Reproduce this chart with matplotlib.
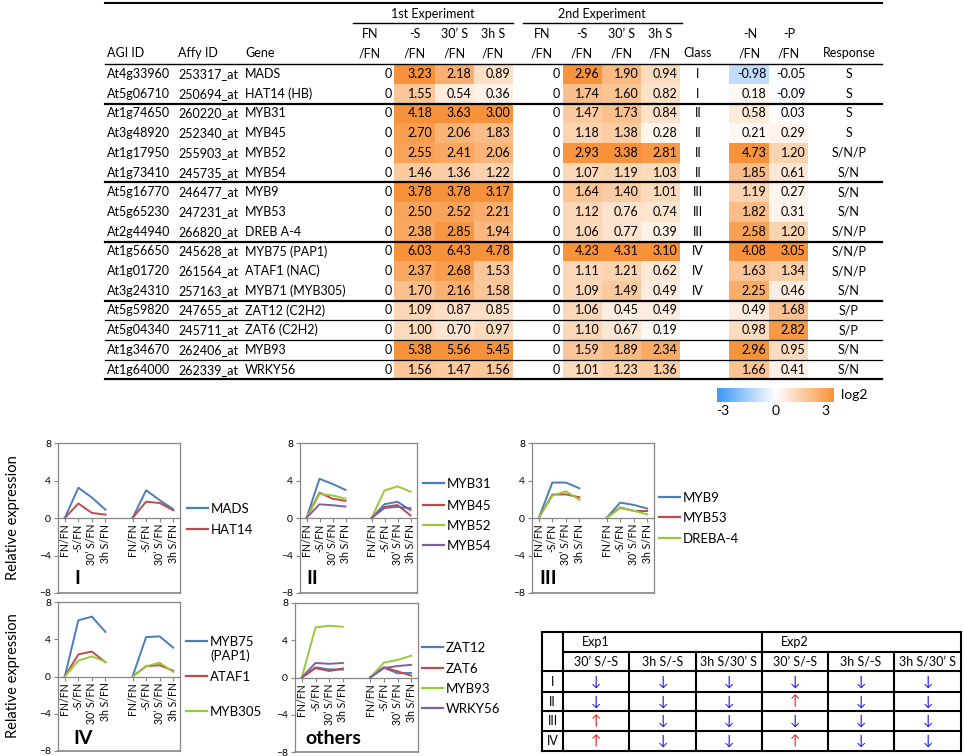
import numpy as np
import matplotlib
matplotlib.use("Agg")
import matplotlib.pyplot as plt
from matplotlib.colors import LinearSegmentedColormap, Normalize

plt.rcParams['font.family'] = ['Lato', 'DejaVu Sans']

# table data
agi = ['At4g33960', 'At5g06710', 'At1g74650', 'At3g48920', 'At1g17950', 'At1g73410',
       'At5g16770', 'At5g65230', 'At2g44940', 'At1g56650', 'At1g01720', 'At3g24310',
       'At5g59820', 'At5g04340', 'At1g34670', 'At1g64000']
affy = ['253317_at', '250694_at', '260220_at', '252340_at', '255903_at', '245735_at',
        '246477_at', '247231_at', '266820_at', '245628_at', '261564_at', '257163_at',
        '247655_at', '245711_at', '262406_at', '262339_at']
genes = ['MADS', 'HAT14 (HB)', 'MYB31', 'MYB45', 'MYB52', 'MYB54', 'MYB9', 'MYB53',
         'DREB A-4', 'MYB75 (PAP1)', 'ATAF1 (NAC)', 'MYB71 (MYB305)', 'ZAT12 (C2H2)',
         'ZAT6 (C2H2)', 'MYB93', 'WRKY56']
exp1 = [[3.23, 2.18, 0.89], [1.55, 0.54, 0.36], [4.18, 3.63, 3.00], [2.70, 2.06, 1.83],
        [2.55, 2.41, 2.06], [1.46, 1.36, 1.22], [3.78, 3.78, 3.17], [2.50, 2.52, 2.21],
        [2.38, 2.85, 1.94], [6.03, 6.43, 4.78], [2.37, 2.68, 1.53], [1.70, 2.16, 1.58],
        [1.09, 0.87, 0.85], [1.00, 0.70, 0.97], [5.38, 5.56, 5.45], [1.56, 1.47, 1.56]]
exp2 = [[2.96, 1.90, 0.94], [1.74, 1.60, 0.82], [1.47, 1.73, 0.84], [1.18, 1.38, 0.28],
        [2.93, 3.38, 2.81], [1.07, 1.19, 1.03], [1.64, 1.40, 1.01], [1.12, 0.76, 0.74],
        [1.06, 0.77, 0.39], [4.23, 4.31, 3.10], [1.11, 1.21, 0.62], [1.09, 1.49, 0.49],
        [1.06, 0.45, 0.49], [1.10, 0.67, 0.19], [1.59, 1.89, 2.34], [1.01, 1.23, 1.36]]
classes = ['I', 'I', 'II', 'II', 'II', 'II', 'III', 'III', 'III', 'IV', 'IV', 'IV', '', '', '', '']
n_fn = [-0.98, 0.18, 0.58, 0.21, 4.73, 1.85, 1.19, 1.82, 2.58, 4.08, 1.63, 2.25, 0.49, 0.98, 2.96, 1.66]
p_fn = [-0.05, -0.09, 0.03, 0.29, 1.20, 0.61, 0.27, 0.31, 1.20, 3.05, 1.34, 0.46, 1.68, 2.82, 0.95, 0.41]
response = ['S', 'S', 'S', 'S', 'S/N/P', 'S/N', 'S/N', 'S/N', 'S/N/P', 'S/N/P', 'S/N/P', 'S/N',
            'S/P', 'S/P', 'S/N', 'S/N']

# line chart panels (rows of the table)
panel_rows = [[0, 1], [2, 3, 4, 5], [6, 7, 8], [9, 10, 11], [12, 13, 14, 15]]
panel_names = [['MADS', 'HAT14'], ['MYB31', 'MYB45', 'MYB52', 'MYB54'],
               ['MYB9', 'MYB53', 'DREBA-4'], ['MYB75\n(PAP1)', 'ATAF1', 'MYB305'],
               ['ZAT12', 'ZAT6', 'MYB93', 'WRKY56']]
panel_labels = ['I', 'II', 'III', 'IV', 'others']
xlabels = ['FN/FN', '-S/FN', '30\u2019 S/FN', '3h S/FN']

# summary arrow table
sum_cols = ['30\u2019 S/-S', '3h S/-S', '3h S/30\u2019 S', '30\u2019 S/-S', '3h S/-S', '3h S/30\u2019 S']
sum_rows = ['I', 'II', 'III', 'IV']
sum_dirs = [['d', 'd', 'd', 'd', 'd', 'd'],
            ['d', 'd', 'd', 'u', 'd', 'd'],
            ['u', 'd', 'd', 'd', 'd', 'd'],
            ['u', 'd', 'd', 'u', 'd', 'd']]

W, H = 964, 756
fig = plt.figure(figsize=(W / 100, H / 100), dpi=100)
ax = fig.add_axes([0, 0, 1, 1])
ax.axis('off')

cmap = LinearSegmentedColormap.from_list('bwo', ['#3D98F5', '#FFFFFF', '#F7923A'])
norm = Normalize(-3, 3)
fs = 9

# ---- heat table ----
top = 64.2
rh = 19.7
cols1 = [394, 435, 474, 513]
cols2 = [563, 602, 641, 680]
colsnp = [729, 769, 808]


def cell(x0, x1, yc, v):
    ax.add_patch(plt.Rectangle((x0, yc - rh / 2), x1 - x0, rh, color=cmap(norm(v)), lw=0))
    ax.text(x1 - 2.5, yc, '%.2f' % v, ha='right', va='center', fontsize=fs)


for i in range(len(agi)):
    yc = top + rh * (i + 0.5)
    ax.text(107, yc, agi[i], ha='left', va='center', fontsize=fs)
    ax.text(178, yc, affy[i], ha='left', va='center', fontsize=fs)
    ax.text(245, yc, genes[i], ha='left', va='center', fontsize=fs)
    ax.text(392, yc, '0', ha='right', va='center', fontsize=fs)
    ax.text(560, yc, '0', ha='right', va='center', fontsize=fs)
    for k in range(3):
        cell(cols1[k], cols1[k + 1], yc, exp1[i][k])
        cell(cols2[k], cols2[k + 1], yc, exp2[i][k])
    cell(colsnp[0], colsnp[1], yc, n_fn[i])
    cell(colsnp[1], colsnp[2], yc, p_fn[i])
    ax.text(698, yc, classes[i], ha='center', va='center', fontsize=fs)
    ax.text(849, yc, response[i], ha='center', va='center', fontsize=fs)

# header
ax.text(433, 14, '1st Experiment', ha='center', va='center', fontsize=fs)
ax.text(602, 14, '2nd Experiment', ha='center', va='center', fontsize=fs)
ax.plot([353, 513], [23, 23], color='k', lw=1)
ax.plot([523, 682], [23, 23], color='k', lw=1)
head1 = ['FN', '-S', '30\u2019 S', '3h S', 'FN', '-S', '30\u2019 S', '3h S', '-N', '-P']
head_x = [370, 415, 455, 493, 542, 582, 622, 660, 750, 789]
for t, x in zip(head1, head_x):
    ax.text(x, 34, t, ha='center', va='center', fontsize=fs)
    ax.text(x, 53, '/FN', ha='center', va='center', fontsize=fs)
ax.text(107, 53, 'AGI ID', ha='left', va='center', fontsize=fs)
ax.text(178, 53, 'Affy ID', ha='left', va='center', fontsize=fs)
ax.text(245, 53, 'Gene', ha='left', va='center', fontsize=fs)
ax.text(698, 53, 'Class', ha='center', va='center', fontsize=fs)
ax.text(849, 53, 'Response', ha='center', va='center', fontsize=fs)

ax.plot([105, 882], [3, 3], color='k', lw=1.5)
ax.plot([105, 882], [top, top], color='k', lw=1)
for b in [2, 6, 9, 12, 16]:
    ax.plot([105, 882], [top + rh * b] * 2, color='k', lw=1.6)
for b in [13, 14, 15]:
    ax.plot([105, 882], [top + rh * b] * 2, color='k', lw=0.9)

# colour scale
grad = np.linspace(-3, 3, 256)[None, :]
ax.imshow(grad, cmap=cmap, norm=norm, extent=[717, 834, 402, 388], aspect='auto')
ax.text(841, 395, 'log2', ha='left', va='center', fontsize=10)
for t, x in zip(['-3', '0', '3'], [723, 776, 825]):
    ax.text(x, 411, t, ha='center', va='center', fontsize=10)

# ---- small line charts ----
colors = ['#4A7EBB', '#BE4B48', '#98C93C', '#7D60A0']
rects = [(58, 443, 180, 593), (300, 443, 417, 593), (532, 443, 654, 593),
         (58, 602, 180, 751), (295, 603, 418, 752)]
leg_x = [187, 423, 659, 186, 422]
leg_y = [[508, 529], [483, 505, 525, 545], [497, 517, 538], [641, 676, 711], [647, 668, 688, 708]]
lab_pos = [(77, 578), (312, 578), (548, 578), (83, 738), (333, 738)]
gray = '#868686'

for p in range(5):
    x0, y0, x1, y1 = rects[p]
    sa = fig.add_axes([x0 / W, 1 - y1 / H, (x1 - x0) / W, (y1 - y0) / H])
    sa.spines['bottom'].set_position(('data', 0))
    for j, r in enumerate(panel_rows[p]):
        sa.plot([0, 1, 2, 3], [0] + exp1[r], color=colors[j], lw=1.4)
        sa.plot([5, 6, 7, 8], [0] + exp2[r], color=colors[j], lw=1.4)
    sa.set_xlim(-0.5, 8.5)
    sa.set_ylim(-8, 8)
    sa.set_yticks([-8, -4, 0, 4, 8])
    sa.set_xticks([0, 1, 2, 3, 5, 6, 7, 8])
    sa.set_xticklabels(xlabels * 2, rotation=90, fontsize=7.6)
    sa.tick_params(axis='y', labelsize=7.5, length=3, color=gray, pad=2)
    sa.tick_params(axis='x', length=3, color=gray, pad=1)
    for s in sa.spines.values():
        s.set_color(gray)
        s.set_linewidth(0.9)
    sa.plot([0, 1], [0, 0], transform=sa.transAxes, color=gray, lw=1.2, clip_on=False)
    sa.patch.set_alpha(0)

    # legend drawn beside the frame
    for j, name in enumerate(panel_names[p]):
        ly = leg_y[p][j]
        ax.plot([leg_x[p], leg_x[p] + 21], [ly, ly], color=colors[j], lw=1.6)
        for k, part in enumerate(name.split('\n')):
            ax.text(leg_x[p] + 24, ly + 1 + 14 * k, part, ha='left', va='center', fontsize=9.5)
    ax.text(lab_pos[p][0], lab_pos[p][1], panel_labels[p], ha='center', va='center',
            fontsize=14, fontweight='bold')

ax.text(13, 518, 'Relative expression', rotation=90, ha='center', va='center', fontsize=10.5)
ax.text(13, 676, 'Relative expression', rotation=90, ha='center', va='center', fontsize=10.5)

# ---- summary arrow table ----
cx = [542, 563, 629, 696, 762, 828, 894, 961]
ry = [632, 652, 671, 692, 711, 731, 751]
lk = dict(color='k', lw=1.5)
ax.plot([542, 961], [632, 632], **lk)
ax.plot([563, 961], [652, 652], **lk)
for y in ry[2:]:
    ax.plot([542, 961], [y, y], **lk)
for x in [542, 563, 762, 961]:
    ax.plot([x, x], [632, 751], **lk)
for x in [629, 696, 828, 894]:
    ax.plot([x, x], [652, 751], **lk)
ax.text(582, 642, 'Exp1', ha='left', va='center', fontsize=fs)
ax.text(781, 642, 'Exp2', ha='left', va='center', fontsize=fs)
for k, t in enumerate(sum_cols):
    ax.text((cx[k + 1] + cx[k + 2]) / 2, 661.5, t, ha='center', va='center', fontsize=fs)
for i, rname in enumerate(sum_rows):
    yc = (ry[i + 2] + ry[i + 3]) / 2
    ax.text(552.5, yc, rname, ha='center', va='center', fontsize=fs)
    for k, d in enumerate(sum_dirs[i]):
        ax.text((cx[k + 1] + cx[k + 2]) / 2, yc, '\u2193' if d == 'd' else '\u2191',
                ha='center', va='center', fontsize=10,
                color='#1515F0' if d == 'd' else '#F01515')

ax.set_xlim(0, W)
ax.set_ylim(H, 0)
fig.savefig('out.png', dpi=100)
